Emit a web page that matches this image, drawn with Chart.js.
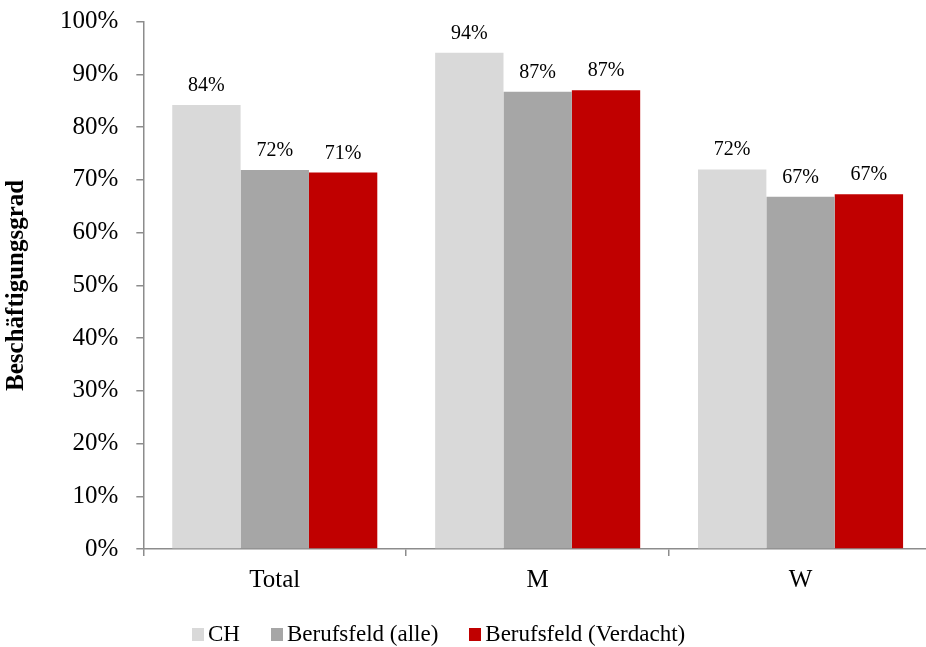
<!DOCTYPE html>
<html>
<head>
<meta charset="utf-8">
<script src="https://cdn.jsdelivr.net/npm/chart.js@4"></script>
<style>
  html, body { margin: 0; padding: 0; background: #fff; overflow: hidden; }
  #wrap { position: relative; width: 932px; height: 647px; }
  #legende { position: absolute; left: 192px; top: 622px; display: flex; align-items: center;
             font-family: "Liberation Serif", "Times New Roman", serif; font-size: 23px; line-height: 24px; color: #000; }
  #legende .item { display: flex; align-items: center; margin-right: 31px; }
  #legende .box { width: 12px; height: 13px; margin-right: 4px; }
</style>
</head>
<body>
<div id="wrap">
  <canvas id="grafico-beschaeftigung" width="932" height="647"></canvas>
  <div id="legende"></div>
</div>
<script>
// Beschäftigungsgrad nach Geschlecht
const kategorien = ['Total', 'M', 'W'];
const serien = ['CH', 'Berufsfeld (alle)', 'Berufsfeld (Verdacht)'];
const werteCH = [84.2, 94.1, 72.0];
const werteAlle = [71.9, 86.7, 66.8];
const werteVerdacht = [71.4, 87.0, 67.3];
const farben = ['#D9D9D9', '#A6A6A6', '#C00000'];

const schrift = '"Liberation Serif", "Times New Roman", serif';
const achsenFarbe = '#8c8c8c';

// Werte über den Balken
const wertLabels = {
    id: 'wertLabels',
    afterDatasetsDraw(chart) {
        const ctx = chart.ctx;
        ctx.save();
        ctx.font = '20px ' + schrift;
        ctx.fillStyle = '#000';
        ctx.textAlign = 'center';
        ctx.textBaseline = 'alphabetic';
        chart.data.datasets.forEach((ds, i) => {
            chart.getDatasetMeta(i).data.forEach((bar, j) => {
                ctx.fillText(Math.round(ds.data[j]) + '%', bar.x, bar.y - 14);
            });
        });
        ctx.restore();
    }
};

const ctxB = document.getElementById('grafico-beschaeftigung').getContext('2d');
const beschaeftigungChart = new Chart(ctxB, {
    type: 'bar',
    data: {
        labels: kategorien,
        datasets: [
            { label: serien[0], data: werteCH, backgroundColor: farben[0] },
            { label: serien[1], data: werteAlle, backgroundColor: farben[1] },
            { label: serien[2], data: werteVerdacht, backgroundColor: farben[2] }
        ]
    },
    options: {
        responsive: false,
        animation: false,
        layout: { padding: { top: 0, bottom: 43, left: 0, right: 0 } },
        datasets: { bar: { categoryPercentage: 0.78, barPercentage: 1.0 } },
        plugins: {
            legend: { display: false },
            tooltip: { enabled: false }
        },
        scales: {
            x: {
                grid: { offset: true, drawOnChartArea: false, drawTicks: true, tickLength: 7, color: achsenFarbe, lineWidth: 1.5 },
                border: { color: achsenFarbe, width: 1.5 },
                ticks: { color: '#000', font: { family: schrift, size: 25 }, padding: 9 }
            },
            y: {
                min: 0,
                max: 100,
                grid: { drawOnChartArea: false, drawTicks: true, tickLength: 7, color: achsenFarbe, lineWidth: 1.5 },
                border: { color: achsenFarbe, width: 1.5 },
                ticks: {
                    stepSize: 10,
                    color: '#000',
                    font: { family: schrift, size: 25, lineHeight: 0.3 },
                    padding: 18,
                    callback: (v) => v + '%'
                },
                title: {
                    display: true,
                    text: 'Beschäftigungsgrad',
                    color: '#000',
                    font: { family: schrift, size: 25, weight: 'bold' },
                    padding: { top: 2, bottom: 10 }
                }
            }
        }
    },
    plugins: [wertLabels]
});

// Legende als HTML
const legende = document.getElementById('legende');
serien.forEach((name, i) => {
    const item = document.createElement('div');
    item.className = 'item';
    const box = document.createElement('span');
    box.className = 'box';
    box.style.background = farben[i];
    const txt = document.createElement('span');
    txt.textContent = name;
    item.appendChild(box);
    item.appendChild(txt);
    legende.appendChild(item);
});
</script>
</body>
</html>
